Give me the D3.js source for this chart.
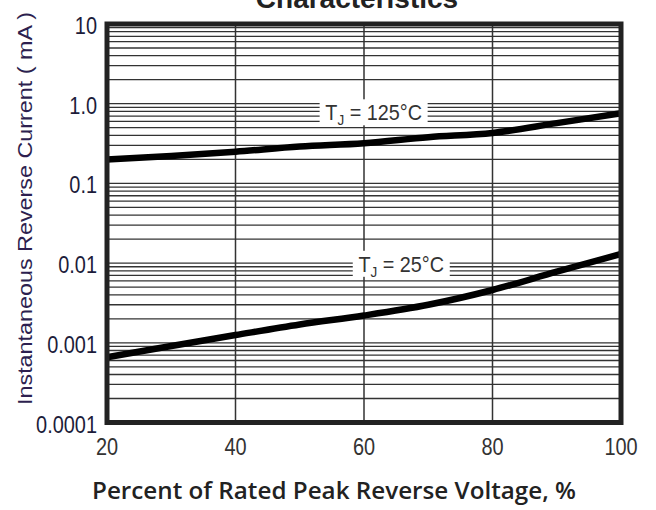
<!DOCTYPE html>
<html>
<head>
<meta charset="utf-8">
<script src="https://cdn.jsdelivr.net/npm/d3@7"></script>
<style>
  body { margin: 0; background: #fff; }
  svg { display: block; }
</style>
</head>
<body>
<div class="chart"></div>
<script>
// values
var voltage = [20, 30, 40, 50, 60, 70, 80, 90, 100];
var current125 = [0.20, 0.22, 0.25, 0.29, 0.32, 0.38, 0.43, 0.57, 0.76];
var current25 = [0.00066, 0.00091, 0.00125, 0.0017, 0.0022, 0.003, 0.0046, 0.0078, 0.013];
var xTicks = [20, 40, 60, 80, 100];
var yTicks = [10, 1, 0.1, 0.01, 0.001, 0.0001];
var yTickLabels = ["10", "1.0", "0.1", "0.01", "0.001", "0.0001"];

var W = 656, H = 510;
var plotLeft = 107, plotRight = 621, plotTop = 24, plotBottom = 422.5;

var x = d3.scaleLinear().domain([20, 100]).range([plotLeft, plotRight]);
var y = d3.scaleLog().domain([0.0001, 10]).range([plotBottom, plotTop]);

var svg = d3.select(".chart").append("svg")
    .attr("width", W)
    .attr("height", H);

var numFont = "'Liberation Sans', Arial, sans-serif";
var squeeze = 0.83;

// minor + major horizontal grid (log)
var gridVals = [];
for (var e = -4; e < 1; e++) {
  for (var m = 1; m < 10; m++) {
    var v = m * Math.pow(10, e);
    if (v > 0.0001 * 1.0001) gridVals.push(v);
  }
}

var grid = svg.append("g").attr("class", "grid");
grid.selectAll("line.h")
    .data(gridVals)
  .enter().append("line")
    .attr("class", "h")
    .attr("x1", plotLeft).attr("x2", plotRight)
    .attr("y1", function (d) { return y(d); })
    .attr("y2", function (d) { return y(d); })
    .attr("stroke", "#333")
    .attr("stroke-width", 1.3);

grid.selectAll("line.v")
    .data(xTicks.slice(1, -1))
  .enter().append("line")
    .attr("class", "v")
    .attr("y1", plotTop).attr("y2", plotBottom)
    .attr("x1", function (d) { return x(d); })
    .attr("x2", function (d) { return x(d); })
    .attr("stroke", "#333")
    .attr("stroke-width", 1.5);

// curves
var line = d3.line()
  .curve(d3.curveMonotoneX)
  .x(function (d, i) { return x(voltage[i]); })
  .y(function (d) { return y(d); });

[current125, current25].forEach(function (s) {
  svg.append("path")
    .datum(s)
    .attr("d", line)
    .attr("fill", "none")
    .attr("stroke", "#000")
    .attr("stroke-width", 6.5);
});

// series labels with white boxes
function label(cx, cy, w, temp) {
  svg.append("rect")
    .attr("x", cx - w / 2).attr("y", cy - 13)
    .attr("width", w).attr("height", 26)
    .attr("fill", "#fff");
  var t = svg.append("text")
    .attr("transform", "translate(" + cx + "," + (cy + 8) + ") scale(0.9,1)")
    .attr("text-anchor", "middle")
    .attr("font-family", numFont)
    .attr("font-size", 22)
    .attr("fill", "#333");
  t.append("tspan").text("T");
  t.append("tspan").attr("dy", 5).attr("font-size", 15).text("J");
  t.append("tspan").attr("dy", -5).text(" = " + temp + "°C");
}
label(x(61.5), y(0.78), 108, 125);
label(x(65.8), y(0.0098), 97, 25);

// frame
svg.append("rect")
    .attr("x", plotLeft).attr("y", plotTop)
    .attr("width", plotRight - plotLeft).attr("height", plotBottom - plotTop)
    .attr("fill", "none")
    .attr("stroke", "#222")
    .attr("stroke-width", 5);

// y tick labels
svg.selectAll("text.ytick")
    .data(yTicks)
  .enter().append("text")
    .attr("class", "ytick")
    .attr("transform", function (d) {
      return "translate(97," + (y(d) + 10) + ") scale(" + squeeze + ",1)";
    })
    .attr("text-anchor", "end")
    .attr("font-family", numFont)
    .attr("font-size", 24)
    .attr("fill", "#1c1c3a")
    .text(function (d, i) { return yTickLabels[i]; });

// x tick labels
svg.selectAll("text.xtick")
    .data(xTicks)
  .enter().append("text")
    .attr("class", "xtick")
    .attr("transform", function (d) {
      return "translate(" + x(d) + ",455) scale(" + squeeze + ",1)";
    })
    .attr("text-anchor", "middle")
    .attr("font-family", numFont)
    .attr("font-size", 24)
    .attr("fill", "#333")
    .text(function (d) { return d; });

// axis titles
svg.append("text")
    .attr("x", 92).attr("y", 499)
    .attr("font-family", "'Open Sans', 'Noto Sans', sans-serif")
    .attr("font-weight", 600)
    .attr("font-size", 24)
    .attr("fill", "#222")
    .attr("textLength", 484)
    .attr("lengthAdjust", "spacingAndGlyphs")
    .text("Percent of Rated Peak Reverse Voltage, %");

svg.append("text")
    .attr("transform", "translate(32,405) rotate(-90)")
    .attr("font-family", "'Liberation Sans', Arial, sans-serif")
    .attr("font-size", 21)
    .attr("fill", "#2d1f4f")
    .attr("textLength", 393)
    .attr("lengthAdjust", "spacingAndGlyphs")
    .text("Instantaneous Reverse Current ( mA )");

// clipped chart title
svg.append("text")
    .attr("x", 357).attr("y", 8)
    .attr("text-anchor", "middle")
    .attr("font-family", "'Liberation Sans', Arial, sans-serif")
    .attr("font-weight", "bold")
    .attr("font-size", 28)
    .attr("fill", "#222")
    .text("Characteristics");
</script>
</body>
</html>
